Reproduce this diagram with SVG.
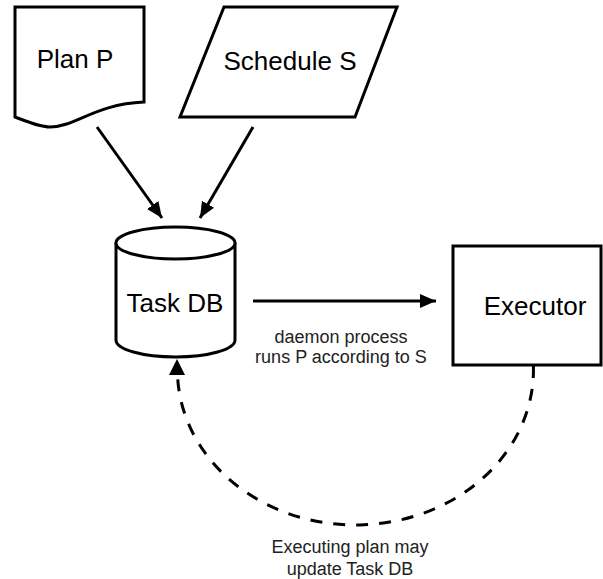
<svg xmlns="http://www.w3.org/2000/svg" width="603" height="579" viewBox="0 0 603 579">
<defs>
<style>
.shape{fill:#fff;stroke:#000;stroke-width:3;stroke-linejoin:miter}
.big{font-family:"Liberation Sans",Arial,sans-serif;font-size:26px;fill:#000;text-anchor:middle}
.small{font-family:"Liberation Sans",Arial,sans-serif;font-size:18px;fill:#222;text-anchor:middle}
.conn{fill:none;stroke:#000;stroke-width:3}
.dash{stroke-dasharray:12 11}
</style>
<marker id="arr" markerUnits="userSpaceOnUse" markerWidth="18" markerHeight="16" refX="16" refY="7" orient="auto">
<path d="M0,0 L16,7 L0,14 Z" fill="#000"/>
</marker>
</defs>
<rect width="603" height="579" fill="#fff"/>
<g id="connectors">
<line class="conn" x1="97" y1="127" x2="162" y2="218" marker-end="url(#arr)"/>
<line class="conn" x1="253" y1="127" x2="200" y2="218" marker-end="url(#arr)"/>
<line class="conn" x1="253" y1="301" x2="436" y2="301" marker-end="url(#arr)"/>
<path class="conn dash" d="M533.4,366 A178,155 0 0 1 177.5,374" />
<path d="M169,375 L177,359 L185,375 Z" fill="#000"/>
<text class="small" x="341" y="343">daemon process</text>
<text class="small" x="341" y="363">runs P according to S</text>
<text class="small" x="350" y="553">Executing plan may</text>
<text class="small" x="350" y="575">update Task DB</text>
</g>
<g id="plan">
<path class="shape" d="M15,7 L144,7 L144,102 C95,104 75,127 50,127 C40,127 28,122 15,117 Z"/>
<text class="big" x="75" y="68">Plan P</text>
</g>
<g id="schedule">
<path class="shape" d="M224,7 L397,7 L355,117 L180,117 Z"/>
<text class="big" x="290" y="70">Schedule S</text>
</g>
<g id="taskdb">
<path class="shape" d="M116,243 L116,340 A59.5,17 0 0 0 235,340 L235,243 A59.5,16 0 0 0 116,243 Z"/>
<path class="shape" d="M116,243 A59.5,16 0 0 0 235,243"/>
<text class="big" x="175" y="312">Task DB</text>
</g>
<g id="executor">
<rect class="shape" x="453" y="246" width="148" height="119"/>
<text class="big" x="535" y="315">Executor</text>
</g>
</svg>
